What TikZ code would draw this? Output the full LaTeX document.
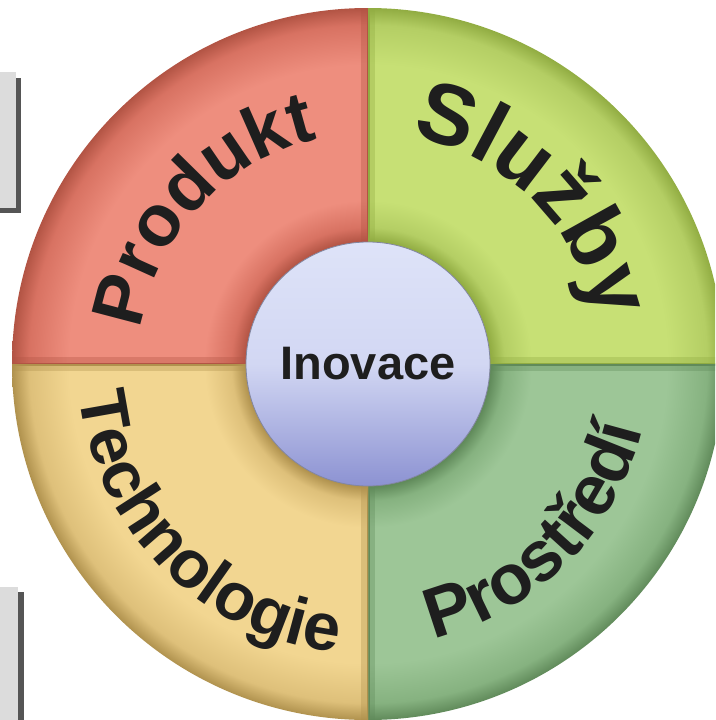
\documentclass[tikz,border=0pt]{standalone}
\usepackage{fontspec}
\setmainfont{Liberation Sans}
\usetikzlibrary{decorations.text,positioning}

\definecolor{redD}{RGB}{178,84,68}
\definecolor{redM}{RGB}{216,114,98}
\definecolor{redL}{RGB}{238,142,126}
\definecolor{limeD}{RGB}{145,172,66}
\definecolor{limeM}{RGB}{180,206,100}
\definecolor{limeL}{RGB}{199,224,117}
\definecolor{greenD}{RGB}{96,138,90}
\definecolor{greenM}{RGB}{134,178,128}
\definecolor{greenL}{RGB}{157,198,151}
\definecolor{sandD}{RGB}{176,146,78}
\definecolor{sandM}{RGB}{222,192,122}
\definecolor{sandL}{RGB}{242,214,145}
\definecolor{lavTop}{RGB}{222,227,248}
\definecolor{lavMid}{RGB}{210,215,243}
\definecolor{lavBot}{RGB}{140,146,210}
\definecolor{lavEdge}{RGB}{130,134,160}
\definecolor{boxgray}{RGB}{220,220,220}
\definecolor{boxshadow}{RGB}{85,85,85}
\definecolor{ink}{RGB}{30,30,30}

% 25bp is the rim of the ring (356pt), 8.6bp its inner edge (122pt)
\pgfdeclareradialshading{ringred}{\pgfpoint{0bp}{0bp}}{color(0bp)=(redD); color(8.6bp)=(redD); color(9.6bp)=(redM); color(11.5bp)=(redL); color(21bp)=(redL); color(23.8bp)=(redM); color(25bp)=(redD); color(50bp)=(redD)}
\pgfdeclareradialshading{ringlime}{\pgfpoint{0bp}{0bp}}{color(0bp)=(limeD); color(8.6bp)=(limeD); color(9.6bp)=(limeM); color(11.5bp)=(limeL); color(21bp)=(limeL); color(23.8bp)=(limeM); color(25bp)=(limeD); color(50bp)=(limeD)}
\pgfdeclareradialshading{ringgreen}{\pgfpoint{0bp}{0bp}}{color(0bp)=(greenD); color(8.6bp)=(greenD); color(9.6bp)=(greenM); color(11.5bp)=(greenL); color(21bp)=(greenL); color(23.8bp)=(greenM); color(25bp)=(greenD); color(50bp)=(greenD)}
\pgfdeclareradialshading{ringsand}{\pgfpoint{0bp}{0bp}}{color(0bp)=(sandD); color(8.6bp)=(sandD); color(9.6bp)=(sandM); color(11.5bp)=(sandL); color(21bp)=(sandL); color(23.8bp)=(sandM); color(25bp)=(sandD); color(50bp)=(sandD)}

\newcommand\prodfont{\bfseries\fontsize{73}{73}\selectfont}
\newcommand\sluzfont{\bfseries\fontsize{86}{86}\selectfont}
\newcommand\prosfont{\bfseries\fontsize{71}{71}\selectfont}
\newcommand\techfont{\bfseries\fontsize{67}{67}\selectfont}

\begin{document}
\begin{tikzpicture}[x=1pt,y=1pt,
    hub/.style={circle, minimum size=244pt, inner sep=0pt, draw=lavEdge, line width=0.8pt,
      top color=lavTop, bottom color=lavBot, middle color=lavMid, text=ink,
      font=\bfseries\fontsize{47}{47}\selectfont},
    ringtext/.style 2 args={decorate, decoration={text along path, text align=center,
      text color=ink, text={|#1|#2}}}]
  \useasboundingbox (0,0) rectangle (715,-720);
  \coordinate (c) at (368,-364);
  % boxes cut by the left edge
  \fill[boxshadow] (0,-78) rectangle (21,-213);
  \fill[boxgray] (0,-72) rectangle (16,-208);
  \fill[boxshadow] (0,-592) rectangle (24,-720);
  \fill[boxgray] (0,-587) rectangle (18,-720);
  % the ring
  \begin{scope}
    \clip (0,0) rectangle (715,-720);
    \foreach \ang/\shd/\edge in {90/ringred/redD, 0/ringlime/limeD, 270/ringgreen/greenD, 180/ringsand/sandD}{
      \begin{scope}
        \clip (c) -- ++(\ang:360pt) arc[start angle=\ang, delta angle=90, radius=360pt] -- cycle;
        \shade[shading=\shd] (c) circle[radius=356pt];
        \draw[\edge, line width=14pt, opacity=0.35] (c) ++(\ang:356pt) -- (c) -- ++(\ang+90:356pt);
        \draw[\edge, line width=3pt] (c) ++(\ang:356pt) -- (c) -- ++(\ang+90:356pt);
      \end{scope}}
  \end{scope}
  % labels along the ring
  \path[ringtext={\prodfont}{Produkt}] (c) ++(182:230pt) arc[start angle=182, end angle=92, radius=230pt];
  \path[ringtext={\sluzfont}{Služby}] (c) ++(90:232pt) arc[start angle=90, end angle=0, radius=232pt];
  \path[ringtext={\prosfont}{Prostředí}] (c) ++(-90:282pt) arc[start angle=-90, end angle=0, radius=282pt];
  \path[ringtext={\techfont}{Technologie}] (c) ++(180:290pt) arc[start angle=180, end angle=270, radius=290pt];
  % centre
  \node[hub] (inovace) at (c) {Inovace};
\end{tikzpicture}
\end{document}
